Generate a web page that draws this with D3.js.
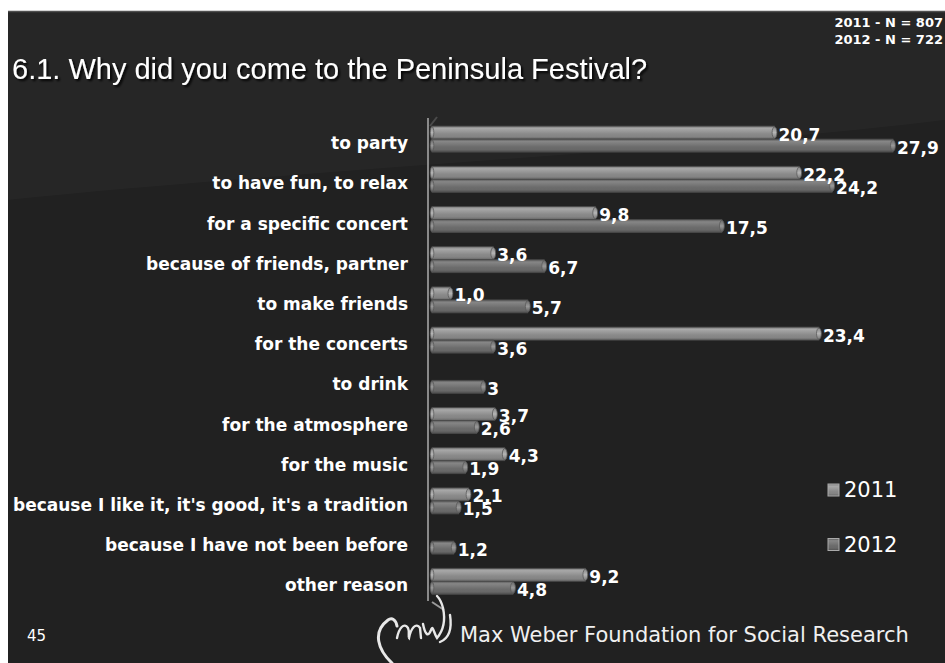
<!DOCTYPE html>
<html>
<head>
<meta charset="utf-8">
<script src="https://cdn.jsdelivr.net/npm/d3@7/dist/d3.min.js"></script>
<style>
  html, body { margin: 0; padding: 0; background: #ffffff; }
  svg { display: block; }
</style>
</head>
<body>
<svg id="chart" width="945" height="663"></svg>
<script>
// ---------- data ----------
const categories = [
  "to party",
  "to have fun, to relax",
  "for a specific concert",
  "because of friends, partner",
  "to make friends",
  "for the concerts",
  "to drink",
  "for the atmosphere",
  "for the music",
  "because I like it, it's good, it's a tradition",
  "because I have not been before",
  "other reason"
];
const seriesNames = ["2011", "2012"];
const values2011 = [20.7, 22.2, 9.8, 3.6, 1.0, 23.4, null, 3.7, 4.3, 2.1, null, 9.2];
const values2012 = [27.9, 24.2, 17.5, 6.7, 5.7, 3.6, 3, 2.6, 1.9, 1.5, 1.2, 4.8];
const labels2011 = ["20,7", "22,2", "9,8", "3,6", "1,0", "23,4", null, "3,7", "4,3", "2,1", null, "9,2"];
const labels2012 = ["27,9", "24,2", "17,5", "6,7", "5,7", "3,6", "3", "2,6", "1,9", "1,5", "1,2", "4,8"];
const sampleNotes = ["2011 - N = 807", "2012 - N = 722"];
const titleText = "6.1. Why did you come to the Peninsula Festival?";
const footerText = "Max Weber Foundation for Social Research";
const pageNumber = "45";

// ---------- setup ----------
const svg = d3.select("#chart");
const W = 945, H = 663;
const defs = svg.append("defs");

function vGrad(id, stops) {
  const g = defs.append("linearGradient").attr("id", id)
    .attr("x1", 0).attr("y1", 0).attr("x2", 0).attr("y2", 1);
  stops.forEach(s => g.append("stop").attr("offset", s[0]).attr("stop-color", s[1]));
}
vGrad("g2011", [["0%", "#777"], ["18%", "#a8a8a8"], ["45%", "#959595"], ["60%", "#8a8a8a"], ["80%", "#848484"], ["100%", "#666"]]);
vGrad("g2012", [["0%", "#5a5a5a"], ["18%", "#868686"], ["45%", "#767676"], ["60%", "#6c6c6c"], ["80%", "#686868"], ["100%", "#4e4e4e"]]);
vGrad("cap2011", [["0%", "#888"], ["50%", "#b5b5b5"], ["100%", "#777"]]);
vGrad("cap2012", [["0%", "#6a6a6a"], ["50%", "#999"], ["100%", "#5a5a5a"]]);

const sh = defs.append("filter").attr("id", "shadow").attr("x", "-5%").attr("y", "-20%").attr("width", "110%").attr("height", "150%");
sh.append("feDropShadow").attr("dx", 2).attr("dy", 2).attr("stdDeviation", 1.2).attr("flood-color", "#000").attr("flood-opacity", 0.9);

// background panel
svg.append("rect").attr("x", 0).attr("y", 0).attr("width", W).attr("height", H).attr("fill", "#ffffff");
svg.append("rect").attr("x", 8).attr("y", 11).attr("width", W - 8).attr("height", H - 11).attr("fill", "#212121");
svg.append("path")
  .attr("d", "M8,12 L945,12 L945,120 C700,150 300,170 8,200 Z")
  .attr("fill", "#ffffff").attr("opacity", 0.025);
svg.append("line").attr("x1", 8).attr("x2", W).attr("y1", 11.5).attr("y2", 11.5)
  .attr("stroke", "#505050").attr("stroke-width", 1.5);

// ---------- scales ----------
const x = d3.scaleLinear().domain([0, 30]).range([434, 434 + 30 * 16.45]);
const y = d3.scaleBand().domain(categories).range([119, 119 + 12 * 40.2])
  .paddingInner(0.353).paddingOuter(0.1765);
const barH = y.bandwidth() / 2;

// ---------- title & notes ----------
svg.append("text").attr("x", 12).attr("y", 79)
  .attr("font-family", "Liberation Sans, Arial, sans-serif").attr("font-size", 29)
  .attr("fill", "#ffffff").attr("filter", "url(#shadow)").text(titleText);

svg.selectAll("text.note").data(sampleNotes).enter().append("text")
  .attr("class", "note").attr("x", 943).attr("y", (d, i) => 27 + i * 17)
  .attr("text-anchor", "end")
  .attr("font-family", "DejaVu Sans, sans-serif").attr("font-weight", "bold").attr("font-size", 13)
  .attr("fill", "#ffffff").text(d => d);

// ---------- axis ----------
const axis = d3.axisLeft(y).tickSize(0).tickPadding(20);
const gAxis = svg.append("g").attr("transform", "translate(428,0)").call(axis);
gAxis.select(".domain").attr("stroke", "#8a8a8a").attr("stroke-width", 2)
  .attr("d", "M0,118V601");
gAxis.selectAll(".tick text")
  .attr("font-family", "DejaVu Sans, sans-serif").attr("font-weight", "bold").attr("font-size", 17)
  .attr("fill", "#ffffff").attr("dy", null).attr("y", 10).attr("x", -20);
// 3D floor hints
svg.append("line").attr("x1", 430).attr("y1", 126).attr("x2", 437).attr("y2", 117)
  .attr("stroke", "#4a4a4a").attr("stroke-width", 2);
svg.append("line").attr("x1", 432).attr("y1", 602).attr("x2", 444).attr("y2", 610)
  .attr("stroke", "#9a9a9a").attr("stroke-width", 2);

// ---------- bars ----------
const rows = categories.map((c, i) => ({
  cat: c,
  series: [
    { key: "2011", v: values2011[i], label: labels2011[i], off: 0 },
    { key: "2012", v: values2012[i], label: labels2012[i], off: 1 }
  ]
}));

const gBars = svg.append("g");
rows.forEach(r => {
  r.series.forEach(s => {
    if (s.v === null) return;
    const yTop = y(r.cat) + s.off * barH;
    const x0 = x(0) - 2, x1 = x(s.v);
    const g = gBars.append("g");
    g.append("rect").attr("x", x0).attr("y", yTop).attr("width", Math.max(0, x1 - x0)).attr("height", barH)
      .attr("fill", `url(#g${s.key})`).attr("stroke", "#4a4a4a").attr("stroke-width", 0.8);
    g.append("ellipse").attr("cx", x0).attr("cy", yTop + barH / 2).attr("rx", 1.8).attr("ry", barH / 2 - 0.5)
      .attr("fill", `url(#cap${s.key})`).attr("stroke", "#555").attr("stroke-width", 0.7);
    g.append("ellipse").attr("cx", x1).attr("cy", yTop + barH / 2).attr("rx", 2.4).attr("ry", barH / 2 - 0.8)
      .attr("fill", `url(#cap${s.key})`).attr("stroke", "#5a5a5a").attr("stroke-width", 0.8);
  });
});

// value labels
rows.forEach(r => {
  r.series.forEach(s => {
    if (s.v === null) return;
    const yTop = y(r.cat) + s.off * barH;
    gBars.append("text").attr("x", x(s.v) + 4).attr("y", yTop + barH + 1.5)
      .attr("font-family", "DejaVu Sans, sans-serif").attr("font-weight", "bold").attr("font-size", 17)
      .attr("fill", "#ffffff").text(s.label);
  });
});

// ---------- legend ----------
const legend = svg.append("g");
seriesNames.forEach((n, i) => {
  const ly = 483 + i * 54.5;
  legend.append("rect").attr("x", 828).attr("y", ly + 1).attr("width", 11).attr("height", 12)
    .attr("fill", `url(#g${n})`).attr("stroke", "#aaa").attr("stroke-width", 1);
  legend.append("text").attr("x", 844).attr("y", ly + 14)
    .attr("font-family", "DejaVu Sans, sans-serif").attr("font-size", 21)
    .attr("fill", "#ffffff").text(n);
});

// ---------- footer ----------
svg.append("text").attr("x", 27).attr("y", 641)
  .attr("font-family", "DejaVu Sans, sans-serif").attr("font-size", 15)
  .attr("fill", "#ffffff").text(pageNumber);

const logo = svg.append("g").attr("fill", "none").attr("stroke", "#e8e8e8").attr("stroke-linecap", "round");
logo.append("path").attr("d", "M392,663 C378,650 372,632 388,620 C392,617 396,620 397,626")
  .attr("stroke-width", 3);
logo.append("path").attr("d", "M397,638 C399,628 404,622 408,628 C410,632 408,637 409,638 C411,628 416,622 420,628 L421,638")
  .attr("stroke-width", 2.4);
logo.append("path").attr("d", "M423,624 C425,634 428,638 431,630 C433,624 434,634 437,638 C442,632 446,622 443,608 C441,600 438,597 437,596")
  .attr("stroke-width", 2.4);
logo.append("path").attr("d", "M450,615 C452,628 450,638 440,642").attr("stroke-width", 2.4);

svg.append("text").attr("x", 460).attr("y", 642)
  .attr("font-family", "DejaVu Sans, sans-serif").attr("font-size", 21)
  .attr("fill", "#f0f0f0").text(footerText);
</script>
</body>
</html>
